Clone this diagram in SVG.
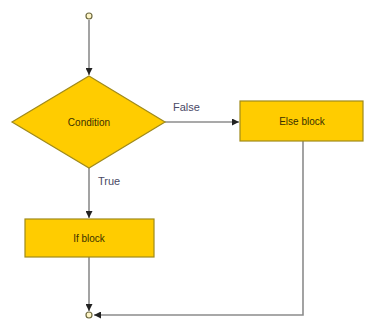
<svg xmlns="http://www.w3.org/2000/svg" width="365" height="320" viewBox="0 0 365 320">
  <style>
    .node { fill: #ffcc00; stroke: #a08a1a; stroke-width: 1.2; }
    .label { font-family: "Liberation Sans", Arial, sans-serif; font-size: 10px; fill: #3a3000; text-anchor: middle; dominant-baseline: central; }
    .edge { fill: none; stroke: #8c8c8c; stroke-width: 1.6; }
    .edge-label { font-family: "Liberation Sans", Arial, sans-serif; font-size: 11px; fill: #4a4a66; }
    .terminal { fill: #fff6c8; stroke: #6e6a40; stroke-width: 1.2; }
  </style>
  <defs>
    <marker id="arrow" viewBox="0 0 10 10" refX="10" refY="5" markerWidth="7" markerHeight="7" orient="auto" markerUnits="userSpaceOnUse">
      <path d="M0,0 L10,5 L0,10 Z" fill="#222"/>
    </marker>
  </defs>
  <rect width="365" height="320" fill="#ffffff"/>

  <g id="connectors">
    <path class="edge" d="M89,20 L89,75" marker-end="url(#arrow)"/>
    <path class="edge" d="M165,122 L239,122" marker-end="url(#arrow)"/>
    <path class="edge" d="M89,168 L89,218" marker-end="url(#arrow)"/>
    <path class="edge" d="M89,257 L89,311" marker-end="url(#arrow)"/>
    <path class="edge" d="M303,141 L303,315 L94,315" marker-end="url(#arrow)"/>
    <text class="edge-label" x="173" y="111">False</text>
    <text class="edge-label" x="98" y="185">True</text>
  </g>

  <g id="start">
    <circle class="terminal" cx="89" cy="16" r="3"/>
  </g>

  <g id="condition">
    <polygon class="node" points="89,76 165,122 89,168 12,122"/>
    <text class="label" x="89" y="122">Condition</text>
  </g>

  <g id="else-block">
    <rect class="node" x="240" y="101" width="123" height="40"/>
    <text class="label" x="302" y="121">Else block</text>
  </g>

  <g id="if-block">
    <rect class="node" x="25" y="219" width="129" height="38"/>
    <text class="label" x="89" y="238">If block</text>
  </g>

  <g id="end">
    <circle class="terminal" cx="89" cy="315" r="3"/>
  </g>
</svg>
